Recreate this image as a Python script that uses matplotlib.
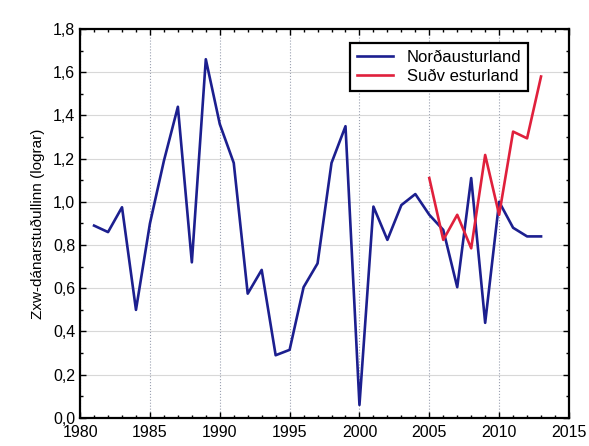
import matplotlib
matplotlib.use("Agg")
import matplotlib.pyplot as plt
from matplotlib.ticker import MultipleLocator, FuncFormatter

plt.rcParams['font.family'] = ['Liberation Sans', 'DejaVu Sans']

# Data
years_ne = list(range(1981, 2014))
nordaustur = [0.89, 0.86, 0.975, 0.50, 0.90, 1.19, 1.44, 0.72, 1.66, 1.36,
              1.18, 0.575, 0.685, 0.29, 0.315, 0.605, 0.715, 1.18, 1.35, 0.06,
              0.978, 0.824, 0.985, 1.036, 0.94, 0.87, 0.605, 1.11, 0.44, 1.0,
              0.88, 0.84, 0.84]
years_sv = list(range(2005, 2014))
sudvestur = [1.11, 0.824, 0.94, 0.785, 1.217, 0.94, 1.325, 1.294, 1.58]

labels = ["Norðausturland", "Suðv esturland"]

fig = plt.figure(figsize=(5.89, 4.46), dpi=100)
ax = fig.add_axes([0.136, 0.063, 0.830, 0.872])

ax.plot(years_ne, nordaustur, color="#1c1f8f", lw=1.9, label=labels[0])
ax.plot(years_sv, sudvestur, color="#e0203c", lw=1.9, label=labels[1])

ax.set_xlim(1980, 2015)
ax.set_ylim(0, 1.8)
ax.xaxis.set_major_locator(MultipleLocator(5))
ax.xaxis.set_minor_locator(MultipleLocator(1))
ax.yaxis.set_major_locator(MultipleLocator(0.2))
ax.yaxis.set_minor_locator(MultipleLocator(0.1))
ax.yaxis.set_major_formatter(FuncFormatter(lambda v, p: f"{v:.1f}".replace(".", ",")))

ax.grid(axis="x", which="major", color="#9aa0b0", linestyle=":", lw=0.8)
ax.grid(axis="y", which="major", color="#d8d8d8", linestyle="-", lw=0.8)

ax.tick_params(which="both", direction="in", top=True, right=True, labelsize=11.5)
ax.tick_params(axis="x", pad=5)
ax.tick_params(which="major", length=4, width=1)
ax.tick_params(which="minor", length=2.5, width=1)
for s in ax.spines.values():
    s.set_linewidth(1.6)

ax.set_ylabel("Zxw-dánarstuðullinn (lograr)", fontsize=11, labelpad=6)

leg = ax.legend(loc="upper left", bbox_to_anchor=(0.535, 0.985), fancybox=False,
                edgecolor="black", framealpha=1, fontsize=12, handlelength=2.2,
                borderpad=0.4, labelspacing=0.25, handletextpad=0.8)
leg.get_frame().set_linewidth(1.6)

fig.savefig("out.png", dpi=100)
